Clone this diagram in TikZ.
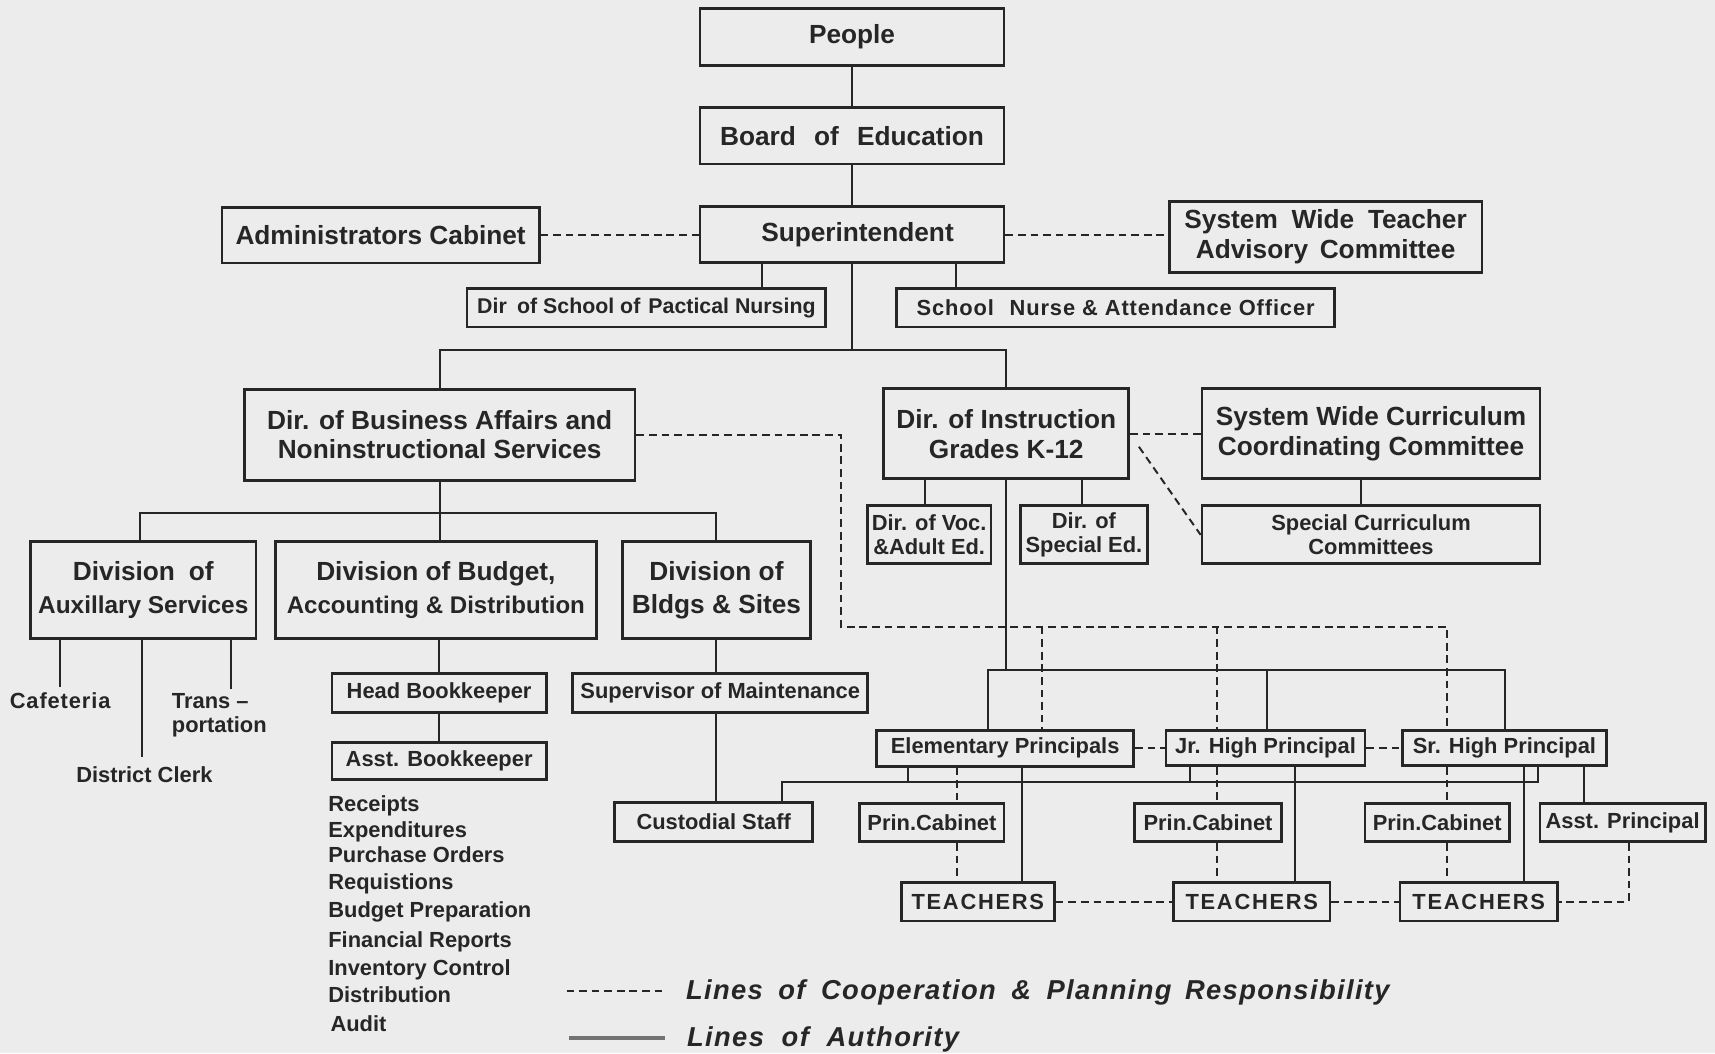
\documentclass[tikz,border=0pt]{standalone}
\usepackage{fontspec}
\setmainfont{Liberation Sans}
\usetikzlibrary{calc}
\definecolor{ink}{RGB}{38,38,38}
\definecolor{paper}{RGB}{236,236,236}
\newcommand\fBig{\fontsize{24}{28}\selectfont\bfseries}
\newcommand\fMed{\fontsize{20}{22}\selectfont\bfseries}
\newcommand\fLeg{\fontsize{25}{30}\selectfont\bfseries\itshape}
\tikzset{
  obox/.style={draw=ink, line width=2.6pt, fill=paper, inner sep=0pt, align=center, text=ink},
  bigbox/.style={obox, font=\fBig},
  medbox/.style={obox, font=\fMed},
  auth/.style={draw=ink, line width=1.8pt},
  coop/.style={draw=ink, line width=1.8pt, dash pattern=on 7pt off 4.5pt},
  lbl/.style={text=ink, inner sep=0pt, font=\fMed, align=left},
}
\begin{document}
\begin{tikzpicture}[x=1pt,y=-1pt]
\fill[paper] (0,0) rectangle (1568,963);
\useasboundingbox (0,0) rectangle (1568,963);

% ---------- top level ----------
\node[bigbox, minimum width=278pt, minimum height=52pt] (people) at (779,34) {People};
\node[bigbox, minimum width=278pt, minimum height=52pt] (board) at (779,124) {Board\hspace{10pt} of\hspace{10pt} Education};
\node[bigbox, minimum width=278pt, minimum height=51pt] (supt) at (779,214.5) {\hspace{10pt}Superintendent};
\node[bigbox, minimum width=290pt, minimum height=51pt] (admin) at (348,215) {Administrators Cabinet};
\node[bigbox, minimum width=286pt, minimum height=65pt] (swtac) at (1212,216.5) {System\hspace{6pt} Wide\hspace{6pt} Teacher\\Advisory\hspace{4pt} Committee};
\node[medbox, minimum width=328pt, minimum height=35pt, font=\fontsize{19.5}{22}\selectfont\bfseries] (nursing) at (591,281.5) {Dir\hspace{4pt} of School of\hspace{2pt} Pactical Nursing};
\node[medbox, minimum width=400pt, minimum height=35pt] (nurse) at (1020,281.5) {\addfontfeature{LetterSpace=4}School\hspace{8pt} Nurse \& Attendance Officer};

% ---------- directors ----------
\node[bigbox, minimum width=357pt, minimum height=83pt, font=\fontsize{24}{26}\selectfont\bfseries] (dba) at (402,397.5) {Dir. of Business Affairs and\\Noninstructional Services};
\node[bigbox, minimum width=224pt, minimum height=82pt, font=\fontsize{24}{27.5}\selectfont\bfseries] (dins) at (920,396.5) {Dir. of Instruction\\Grades K-12};
\node[bigbox, minimum width=309pt, minimum height=82pt, font=\fontsize{24}{28}\selectfont\bfseries] (swccc) at (1253.5,396.5) {System Wide Curriculum\\Coordinating Committee};
\node[medbox, minimum width=113pt, minimum height=53pt] (voc) at (849.5,489) {Dir. of Voc.\\\&Adult Ed.};
\node[medbox, minimum width=116pt, minimum height=53pt] (sped) at (991,489) {Dir. of\\Special Ed.};
\node[medbox, minimum width=309pt, minimum height=53pt] (scc) at (1253.5,489) {Special Curriculum\\Committees};

% ---------- divisions ----------
\node[bigbox, minimum width=206pt, minimum height=89pt, font=\fontsize{24}{30}\selectfont\bfseries] (aux) at (131,539.5) {Division\hspace{6pt} of\\{\fontsize{22.3}{30}\selectfont Auxillary Services}};
\node[bigbox, minimum width=293pt, minimum height=89pt, font=\fontsize{24}{30}\selectfont\bfseries] (budget) at (398.5,539.5) {Division of Budget,\\{\fontsize{22}{30}\selectfont Accounting \& Distribution}};
\node[bigbox, minimum width=172pt, minimum height=89pt, font=\fontsize{24}{30}\selectfont\bfseries] (bldgs) at (655,539.5) {Division of\\Bldgs \& Sites};
\node[medbox, minimum width=196pt, minimum height=36pt] (hb) at (401.5,633.5) {Head Bookkeeper};
\node[medbox, minimum width=196pt, minimum height=34pt] (ab) at (401.5,696) {Asst. Bookkeeper};
\node[medbox, minimum width=270pt, minimum height=36pt] (sup) at (658.5,633.5) {Supervisor of Maintenance};
\node[medbox, minimum width=181pt, minimum height=36pt] (cust) at (652.5,751.5) {Custodial Staff};

% ---------- principals ----------
\node[medbox, minimum width=235pt, minimum height=33pt] (elem) at (919,684) {Elementary Principals};
\node[medbox, minimum width=182pt, minimum height=32pt] (jr) at (1157,684) {Jr. High Principal};
\node[medbox, minimum width=187pt, minimum height=32pt] (sr) at (1375.5,684) {Sr. High Principal};
\node[medbox, minimum width=132pt, minimum height=35pt] (pc1) at (852,752) {Prin.Cabinet};
\node[medbox, minimum width=135pt, minimum height=35pt] (pc2) at (1104.5,752) {Prin.Cabinet};
\node[medbox, minimum width=132pt, minimum height=35pt] (pc3) at (1314,752) {Prin.Cabinet};
\node[medbox, minimum width=151pt, minimum height=35pt] (ap) at (1483.5,752) {Asst. Principal};
\node[medbox, minimum width=140pt, minimum height=35pt] (t1) at (894,824.5) {\addfontfeature{LetterSpace=8}TEACHERS};
\node[medbox, minimum width=143pt, minimum height=35pt] (t2) at (1144.5,824.5) {\addfontfeature{LetterSpace=8}TEACHERS};
\node[medbox, minimum width=144pt, minimum height=35pt] (t3) at (1352,824.5) {\addfontfeature{LetterSpace=8}TEACHERS};

% ---------- labels ----------
\node[lbl, anchor=base] (caf) at (55,648) {\addfontfeature{LetterSpace=4}Cafeteria};
\node[lbl, anchor=base west] (trans) at (157,648) {Trans --};
\node[lbl, anchor=base west] (trans2) at (157,670) {portation};
\node[lbl, anchor=base] (clerk) at (132,715) {District Clerk};
\node[lbl, anchor=base west] (l1) at (300,742) {Receipts};
\node[lbl, anchor=base west] (l2) at (300,766) {Expenditures};
\node[lbl, anchor=base west] (l3) at (300,789) {Purchase Orders};
\node[lbl, anchor=base west] (l4) at (300,813) {Requistions};
\node[lbl, anchor=base west] (l5) at (300,839) {Budget Preparation};
\node[lbl, anchor=base west] (l6) at (300,866) {Financial Reports};
\node[lbl, anchor=base west] (l7) at (300,892) {Inventory Control};
\node[lbl, anchor=base west] (l8) at (300,917) {Distribution};
\node[lbl, anchor=base west] (l9) at (302,943) {Audit};

% ---------- helper coordinates ----------
\coordinate (xNurs) at (697,0);
\coordinate (xNurse) at (874,0);
\coordinate (bus1) at (779,320);
\coordinate (bus2) at (402,469);
\coordinate (xAux) at (128,0);
\coordinate (xBldg) at (655,0);
\coordinate (cafEnd) at (55,628);
\coordinate (clerkEnd) at (130,692);
\coordinate (transEnd) at (211,630);
\coordinate (xVoc) at (846,0);
\coordinate (xSped) at (989,0);
\coordinate (xScc) at (1244,0);
\coordinate (bus3) at (920,613);
\coordinate (xE) at (903,0);
\coordinate (xJ) at (1158,0);
\coordinate (xS) at (1376,0);
\coordinate (bus4) at (715,715);
\coordinate (xEb) at (830,0);
\coordinate (xJb) at (1088,0);
\coordinate (xSb) at (1406,0);
\coordinate (xEt) at (934,0);
\coordinate (xJt) at (1184,0);
\coordinate (xSt) at (1393,0);
\coordinate (xAp) at (1448,0);
\coordinate (coopY) at (769,573);
\coordinate (xEc) at (953,0);
\coordinate (xJc) at (1113,0);
\coordinate (xSc) at (1323,0);
\coordinate (xEd) at (875,0);
\coordinate (xAd) at (1489,0);

% ---------- lines of authority ----------
\draw[auth] (people) -- (board);
\draw[auth] (board) -- (supt);
\draw[auth] (supt.south) -- (bus1);
\draw[auth] (dba.north) |- (bus1) -| (dins.north);
\draw[auth] (supt.south -| xNurs) -- (nursing.north -| xNurs);
\draw[auth] (supt.south -| xNurse) -- (nurse.north -| xNurse);
\draw[auth] (dba.south) -- (bus2);
\draw[auth] (aux.north -| xAux) |- (bus2) -| (bldgs.north -| xBldg);
\draw[auth] (bus2) -- (budget.north -| bus2);
\draw[auth] (budget.south -| hb) -- (hb);
\draw[auth] (hb) -- (ab);
\draw[auth] (bldgs.south -| xBldg) -- (sup.north -| xBldg);
\draw[auth] (sup.south -| xBldg) -- (cust.north -| xBldg);
\draw[auth] (aux.south -| cafEnd) -- (cafEnd);
\draw[auth] (aux.south -| clerkEnd) -- (clerkEnd);
\draw[auth] (aux.south -| transEnd) -- (transEnd);
\draw[auth] (dins.south -| xVoc) -- (voc.north -| xVoc);
\draw[auth] (dins.south -| xSped) -- (sped.north -| xSped);
\draw[auth] (swccc.south -| xScc) -- (scc.north -| xScc);
\draw[auth] (dins.south) -- (bus3);
\draw[auth] (elem.north -| xE) |- (bus3) -| (sr.north -| xS);
\draw[auth] (bus3 -| xJ) -- (jr.north -| xJ);
\draw[auth] (cust.north -| bus4) |- (bus4 -| xSb) -- (sr.south -| xSb);
\draw[auth] (elem.south -| xEb) -- (bus4 -| xEb);
\draw[auth] (jr.south -| xJb) -- (bus4 -| xJb);
\draw[auth] (elem.south -| xEt) -- (t1.north -| xEt);
\draw[auth] (jr.south -| xJt) -- (t2.north -| xJt);
\draw[auth] (sr.south -| xSt) -- (t3.north -| xSt);
\draw[auth] (sr.south -| xAp) -- (ap.north -| xAp);

% ---------- lines of cooperation ----------
\draw[coop] (admin.east) -- (admin.east -| supt.west);
\draw[coop] (supt.east) -- (supt.east -| swtac.west);
\draw[coop] (dins.east) -- (dins.east -| swccc.west);
\draw[coop] ($(dins.east)+(8,12)$) -- (scc.west);
\draw[coop] (dba.east) -| (coopY) -| (sr.north -| xSc);
\draw[coop] (coopY -| xEc) -- (elem.north -| xEc);
\draw[coop] (coopY -| xJc) -- (jr.north -| xJc);
\draw[coop] (elem) -- (jr);
\draw[coop] (jr) -- (sr);
\draw[coop] (elem.south -| xEd) -- (pc1.north -| xEd);
\draw[coop] (pc1.south -| xEd) -- (t1.north -| xEd);
\draw[coop] (jr.south -| xJc) -- (pc2.north -| xJc);
\draw[coop] (pc2.south -| xJc) -- (t2.north -| xJc);
\draw[coop] (sr.south -| xSc) -- (pc3.north -| xSc);
\draw[coop] (pc3.south -| xSc) -- (t3.north -| xSc);
\draw[coop] (t1) -- (t2);
\draw[coop] (t2) -- (t3);
\draw[coop] (ap.south -| xAd) |- (t3.east);

% ---------- legend ----------
\coordinate (lgA1) at (518,906);
\coordinate (lgA2) at (610,906);
\coordinate (lgB1) at (520,949);
\coordinate (lgB2) at (608,949);
\draw[coop] (lgA1) -- (lgA2);
\draw[draw=ink!65, line width=2.8pt] (lgB1) -- (lgB2);
\node[lbl, anchor=base west, font=\fLeg] (leg1) at (627,914) {\addfontfeature{LetterSpace=5}Lines\hspace{6pt} of\hspace{6pt} Cooperation\hspace{6pt} \&\hspace{6pt} Planning\hspace{4pt} Responsibility};
\node[lbl, anchor=base west, font=\fLeg] (leg2) at (628,957) {\addfontfeature{LetterSpace=5}Lines\hspace{8pt} of\hspace{8pt} Authority};
\end{tikzpicture}
\end{document}
